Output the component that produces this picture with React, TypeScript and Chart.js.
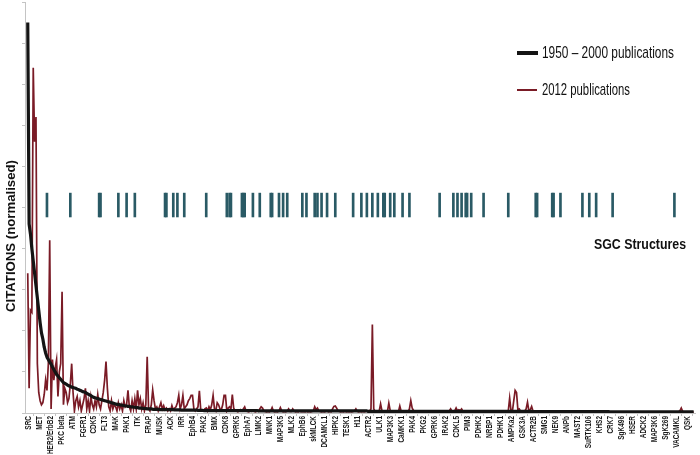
import React, { useEffect, useRef } from 'react';
import { Chart, registerables } from 'chart.js';

Chart.register(...registerables);

// ---------- DATA ----------
// one labelled kinase every LABEL_STEP positions
const LABEL_STEP = 8;
const kinaseLabels = [
  'SRC', 'MET', 'HER2/ErbB2', 'PKC beta', 'ATM', 'FGFR1', 'CDK5', 'FLT3', 'MAK', 'PAK1',
  'ITK', 'FRAP', 'MUSK', 'ACK', 'IRR', 'EphB4', 'PAK2', 'BMX', 'CDK8', 'GPRK5',
  'EphA7', 'LIMK2', 'MNK1', 'MAP3K5', 'MLK2', 'EphB6', 'skMLCK', 'DCAMKL1', 'HIPK2', 'TESK1',
  'H11', 'ACTR2', 'ULK1', 'MAP3K3', 'CaMKK1', 'PAK4', 'PKG2', 'GPRK6', 'IRAK2', 'CDKL5',
  'PIM3', 'PDHK2', 'NRBP1', 'PDHK1', 'AMPKa2', 'GSK3A', 'ACTR2B', 'SMG1', 'NEK9', 'ANPb',
  'MAST2', 'SuRTK106', 'KHS2', 'CRK7', 'SgK496', 'HSER', 'ADCK2', 'MAP3K6', 'SgK269', 'VACAMKL',
  'QSK',
];

// normalised citations, 1950 – 2000 publications (one value per kinase position)
const citations1950to2000 = [
  9.5, 4.6, 4.35, 4.0, 3.7, 3.4, 3.1, 2.8,
  2.5, 2.2, 1.95, 1.8, 1.6, 1.46, 1.36, 1.3,
  1.24, 1.19, 1.12, 1.06, 1.0, 0.94, 0.9, 0.86,
  0.82, 0.78, 0.74, 0.72, 0.7, 0.68, 0.66, 0.65,
  0.63, 0.62, 0.61, 0.6, 0.58, 0.57, 0.55, 0.54,
  0.52, 0.51, 0.5, 0.48, 0.46, 0.44, 0.42, 0.4,
  0.38, 0.37, 0.36, 0.35, 0.34, 0.33, 0.32, 0.31,
  0.3, 0.29, 0.28, 0.27, 0.26, 0.25, 0.24, 0.23,
  0.22, 0.21, 0.21, 0.2, 0.19, 0.19, 0.18, 0.17,
  0.17, 0.16, 0.16, 0.15, 0.15, 0.14, 0.14, 0.13,
  0.13, 0.12, 0.12, 0.12, 0.11, 0.11, 0.11, 0.1,
  0.1, 0.1, 0.1, 0.09, 0.09, 0.09, 0.09, 0.09,
  0.08, 0.08, 0.08, 0.08, 0.08, 0.08, 0.08, 0.08,
  0.08, 0.08, 0.08, 0.075, 0.075, 0.075, 0.075, 0.075,
  0.07, 0.07, 0.07, 0.07, 0.07, 0.07, 0.07, 0.07,
  0.07, 0.07, 0.07, 0.07, 0.065, 0.065, 0.065, 0.065,
  0.06, 0.06, 0.06, 0.06, 0.06, 0.06, 0.06, 0.06,
  0.06, 0.06, 0.06, 0.06, 0.06, 0.06, 0.06, 0.06,
  0.06, 0.06, 0.06, 0.06, 0.06, 0.06, 0.06, 0.06,
  0.06, 0.06, 0.06, 0.06, 0.06, 0.06, 0.06, 0.06,
  0.06, 0.06, 0.06, 0.06, 0.06, 0.06, 0.06, 0.06,
  0.05, 0.05, 0.05, 0.05, 0.05, 0.05, 0.05, 0.05,
  0.05, 0.05, 0.05, 0.05, 0.05, 0.05, 0.05, 0.05,
  0.05, 0.05, 0.05, 0.05, 0.05, 0.05, 0.05, 0.05,
  0.05, 0.05, 0.05, 0.05, 0.05, 0.05, 0.05, 0.05,
  0.05, 0.05, 0.05, 0.05, 0.05, 0.05, 0.05, 0.05,
  0.05, 0.05, 0.05, 0.05, 0.05, 0.05, 0.05, 0.05,
  0.05, 0.05, 0.05, 0.05, 0.05, 0.05, 0.05, 0.05,
  0.05, 0.05, 0.05, 0.05, 0.05, 0.05, 0.05, 0.05,
  0.05, 0.05, 0.05, 0.05, 0.05, 0.05, 0.05, 0.05,
  0.05, 0.05, 0.05, 0.05, 0.05, 0.05, 0.05, 0.05,
  0.04, 0.04, 0.04, 0.04, 0.04, 0.04, 0.04, 0.04,
  0.04, 0.04, 0.04, 0.04, 0.04, 0.04, 0.04, 0.04,
  0.04, 0.04, 0.04, 0.04, 0.04, 0.04, 0.04, 0.04,
  0.04, 0.04, 0.04, 0.04, 0.04, 0.04, 0.04, 0.04,
  0.04, 0.04, 0.04, 0.04, 0.04, 0.04, 0.04, 0.04,
  0.04, 0.04, 0.04, 0.04, 0.04, 0.04, 0.04, 0.04,
  0.04, 0.04, 0.04, 0.04, 0.04, 0.04, 0.04, 0.04,
  0.04, 0.04, 0.04, 0.04, 0.04, 0.04, 0.04, 0.04,
  0.04, 0.04, 0.04, 0.04, 0.04, 0.04, 0.04, 0.04,
  0.04, 0.04, 0.04, 0.04, 0.04, 0.04, 0.04, 0.04,
  0.04, 0.04, 0.04, 0.04, 0.04, 0.04, 0.04, 0.04,
  0.04, 0.04, 0.04, 0.04, 0.04, 0.04, 0.04, 0.04,
  0.04, 0.04, 0.04, 0.04, 0.04, 0.04, 0.04, 0.04,
  0.04, 0.04, 0.04, 0.04, 0.04, 0.04, 0.04, 0.04,
  0.04, 0.04, 0.04, 0.04, 0.04, 0.04, 0.04, 0.04,
  0.035, 0.035, 0.035, 0.035, 0.035, 0.035, 0.035, 0.035,
  0.035, 0.035, 0.035, 0.035, 0.035, 0.035, 0.035, 0.035,
  0.035, 0.035, 0.035, 0.035, 0.035, 0.035, 0.035, 0.035,
  0.035, 0.035, 0.035, 0.035, 0.035, 0.035, 0.035, 0.035,
  0.035, 0.035, 0.035, 0.035, 0.035, 0.035, 0.035, 0.035,
  0.035, 0.035, 0.035, 0.035, 0.035, 0.035, 0.035, 0.035,
  0.035, 0.035, 0.035, 0.035, 0.035, 0.035, 0.035, 0.035,
  0.03, 0.03, 0.03, 0.03, 0.03, 0.03, 0.03, 0.03,
  0.03, 0.03, 0.03, 0.03, 0.03, 0.03, 0.03, 0.03,
  0.03, 0.03, 0.03, 0.03, 0.03, 0.03, 0.03, 0.03,
  0.03, 0.03, 0.03, 0.03, 0.03, 0.03, 0.03, 0.03,
  0.03, 0.03, 0.03, 0.03, 0.03, 0.03, 0.03, 0.03,
  0.03, 0.03, 0.03, 0.03, 0.03, 0.03, 0.03, 0.03,
  0.03, 0.03, 0.03, 0.03, 0.03, 0.03, 0.03, 0.03,
  0.03, 0.03, 0.03, 0.03, 0.03, 0.03,
];

// normalised citations, 2012 publications
const citations2012 = [
  3.4, 0.6, 2.5, 2.45, 8.4, 6.6, 7.2, 1.2,
  0.5, 0.3, 0.2, 0.25, 0.45, 0.8, 0.55, 1.2,
  4.2, 0.1, 1.3, 0.8, 1.1, 1.3, 0.4, 1.0,
  1.2, 2.95, 0.2, 0.6, 0.5, 0.25, 0.35, 0.7,
  1.2, 0.5, 0.05, 0.3, 0.4, 0.15, 0.3, 0.05,
  0.2, 0.35, 0.6, 0.1, 0.3, 0.05, 0.4, 0.2,
  0.1, 0.3, 0.15, 0.45, 0.2, 0.1, 0.3, 0.5,
  0.8, 1.25, 0.6, 0.15, 0.05, 0.3, 0.1, 0.2,
  0.15, 0.05, 0.25, 0.1, 0.2, 0.05, 0.3, 0.15,
  0.2, 0.55, 0.15, 0.05, 0.3, 0.1, 0.35, 0.1,
  0.55, 0.2, 0.35, 0.1, 0.25, 0.05, 0.2, 1.37,
  0.1, 0.05, 0.2, 0.56, 0.3, 0.1, 0.15, 0.05,
  0.15, 0.25, 0.1, 0.18, 0.08, 0.12, 0.05, 0.1,
  0.05, 0.18, 0.08, 0.12, 0.15, 0.25, 0.43, 0.1,
  0.2, 0.43, 0.1, 0.15, 0.2, 0.3, 0.35, 0.43,
  0.43, 0.1, 0.05, 0.1, 0.15, 0.54, 0.08, 0.05,
  0.05, 0.1, 0.12, 0.05, 0.15, 0.08, 0.2, 0.43,
  0.1, 0.05, 0.25, 0.2, 0.1, 0.08, 0.2, 0.43,
  0.43, 0.05, 0.12, 0.15, 0.1, 0.45, 0.12, 0.05,
  0.05, 0.03, 0.05, 0.08, 0.05, 0.1, 0.15, 0.05,
  0.04, 0.03, 0.05, 0.04, 0.06, 0.04, 0.03, 0.05,
  0.04, 0.1, 0.15, 0.12, 0.05, 0.04, 0.03, 0.04,
  0.03, 0.05, 0.13, 0.04, 0.03, 0.04, 0.03, 0.05,
  0.13, 0.05, 0.03, 0.04, 0.03, 0.05, 0.1, 0.04,
  0.04, 0.1, 0.05, 0.03, 0.04, 0.03, 0.05, 0.03,
  0.03, 0.04, 0.03, 0.05, 0.03, 0.04, 0.03, 0.04,
  0.05, 0.15, 0.08, 0.12, 0.05, 0.04, 0.03, 0.04,
  0.03, 0.04, 0.05, 0.03, 0.04, 0.03, 0.1, 0.16,
  0.17, 0.12, 0.05, 0.04, 0.03, 0.04, 0.03, 0.05,
  0.03, 0.04, 0.03, 0.04, 0.03, 0.04, 0.05, 0.1,
  0.04, 0.03, 0.04, 0.03, 0.04, 0.03, 0.04, 0.05,
  0.04, 0.05, 0.1, 2.15, 0.1, 0.04, 0.03, 0.05,
  0.05, 0.22, 0.05, 0.03, 0.04, 0.03, 0.04, 0.24,
  0.06, 0.04, 0.03, 0.04, 0.03, 0.04, 0.03, 0.17,
  0.04, 0.03, 0.04, 0.03, 0.04, 0.03, 0.1, 0.3,
  0.12, 0.06, 0.04, 0.03, 0.04, 0.03, 0.04, 0.03,
  0.03, 0.04, 0.03, 0.03, 0.04, 0.03, 0.03, 0.03,
  0.03, 0.03, 0.04, 0.03, 0.03, 0.03, 0.04, 0.03,
  0.03, 0.04, 0.03, 0.05, 0.1, 0.04, 0.03, 0.05,
  0.12, 0.05, 0.08, 0.06, 0.1, 0.04, 0.03, 0.04,
  0.03, 0.03, 0.03, 0.04, 0.03, 0.03, 0.03, 0.03,
  0.03, 0.03, 0.03, 0.03, 0.04, 0.03, 0.03, 0.03,
  0.03, 0.03, 0.03, 0.03, 0.03, 0.03, 0.03, 0.03,
  0.03, 0.03, 0.03, 0.03, 0.03, 0.04, 0.05, 0.36,
  0.05, 0.04, 0.3, 0.55, 0.5, 0.08, 0.1, 0.04,
  0.04, 0.03, 0.05, 0.1, 0.26, 0.05, 0.08, 0.16,
  0.05, 0.03, 0.04, 0.03, 0.03, 0.03, 0.03, 0.03,
  0.03, 0.03, 0.03, 0.03, 0.03, 0.03, 0.03, 0.03,
  0.03, 0.03, 0.03, 0.03, 0.03, 0.03, 0.03, 0.03,
  0.03, 0.03, 0.03, 0.03, 0.03, 0.03, 0.03, 0.03,
  0.03, 0.03, 0.03, 0.03, 0.03, 0.03, 0.03, 0.03,
  0.03, 0.03, 0.03, 0.03, 0.03, 0.03, 0.03, 0.03,
  0.03, 0.03, 0.03, 0.02, 0.03, 0.03, 0.03, 0.03,
  0.03, 0.02, 0.03, 0.03, 0.02, 0.03, 0.03, 0.02,
  0.03, 0.02, 0.03, 0.02, 0.03, 0.02, 0.03, 0.02,
  0.02, 0.03, 0.02, 0.02, 0.03, 0.02, 0.02, 0.03,
  0.02, 0.02, 0.03, 0.02, 0.02, 0.02, 0.03, 0.02,
  0.02, 0.02, 0.02, 0.03, 0.02, 0.02, 0.02, 0.02,
  0.02, 0.02, 0.02, 0.02, 0.02, 0.03, 0.02, 0.02,
  0.02, 0.02, 0.03, 0.05, 0.12, 0.04, 0.02, 0.02,
  0.02, 0.02, 0.02, 0.02, 0.02, 0.02,
];

// kinase positions that have SGC structures
const sgcStructurePositions = [
  14, 31, 52, 53, 66, 72, 78, 100, 101, 106, 109, 114, 130, 145, 147, 148,
  156, 157, 158, 164, 169, 177, 178, 183, 186, 189, 200, 203, 209, 211, 214, 218,
  224, 237, 243, 247, 251, 255, 259, 260, 264, 267, 273, 278, 300, 310, 313, 316,
  319, 320, 323, 332, 350, 370, 371, 382, 383, 388, 404, 409, 414, 426, 471,
];
const sgcBand = [4.77, 5.35];

const yTickValues = [0, 1, 2, 3, 4, 5, 6, 7, 8, 9, 10];

// ---------- STYLE ----------
const BLACK = '#141414';
const RED = '#7a1b26';
const TEAL = '#2a5a65';
const AXIS = '#c4c4c4';
const FONT = '"Liberation Sans", Arial, sans-serif';

function drawFitted(ctx: CanvasRenderingContext2D, text: string, x: number, y: number, width: number, font: string, align: CanvasTextAlign) {
  ctx.save();
  ctx.font = font;
  const w = ctx.measureText(text).width;
  ctx.translate(x, y);
  ctx.scale(width / w, 1);
  ctx.textAlign = align;
  ctx.textBaseline = 'middle';
  ctx.fillText(text, 0, 0);
  ctx.restore();
}

const overlayPlugin = {
  id: 'overlay',
  afterDraw(chart: any) {
    const ctx: CanvasRenderingContext2D = chart.ctx;
    const xs = chart.scales.x;
    ctx.save();
    ctx.fillStyle = '#1a1a1a';
    // x tick labels (rotated, condensed)
    ctx.font = `bold 8.5px ${FONT}`;
    ctx.textAlign = 'right';
    ctx.textBaseline = 'middle';
    kinaseLabels.forEach((lab, k) => {
      const x = xs.getPixelForValue(k * LABEL_STEP);
      ctx.save();
      ctx.translate(x + 0.5, xs.top + 3);
      ctx.rotate(-Math.PI / 2);
      ctx.scale(0.76, 1);
      ctx.fillText(lab, 0, 0);
      ctx.restore();
    });

    // y axis title
    ctx.save();
    ctx.translate(11, 236);
    ctx.rotate(-Math.PI / 2);
    ctx.fillStyle = '#111';
    drawFitted(ctx, 'CITATIONS (normalised)', 0, 0, 152, `bold 13.5px ${FONT}`, 'center');
    ctx.restore();

    // legend
    const ds = chart.data.datasets;
    ctx.lineCap = 'butt';
    ctx.strokeStyle = ds[0].borderColor;
    ctx.lineWidth = 4;
    ctx.beginPath(); ctx.moveTo(517, 53); ctx.lineTo(538, 53); ctx.stroke();
    ctx.strokeStyle = ds[1].borderColor;
    ctx.lineWidth = 2;
    ctx.beginPath(); ctx.moveTo(517, 90); ctx.lineTo(537, 90); ctx.stroke();
    ctx.fillStyle = '#111';
    drawFitted(ctx, ds[0].label, 542, 53, 132, `17px ${FONT}`, 'left');
    drawFitted(ctx, ds[1].label, 542, 90, 88, `17px ${FONT}`, 'left');

    // SGC structures caption
    drawFitted(ctx, ds[2].label, 594, 245, 92, `bold 15.5px ${FONT}`, 'left');
    ctx.restore();
  },
};

export default function App() {
  const canvasRef = useRef<HTMLCanvasElement | null>(null);

  useEffect(() => {
    document.body.style.margin = '0';
    const canvas = canvasRef.current;
    if (!canvas) return;
    const chart = new Chart(canvas, {
      type: 'line',
      data: {
        datasets: [
          {
            label: '1950 – 2000 publications',
            data: citations1950to2000.map((v, i) => ({ x: i, y: v })),
            borderColor: BLACK,
            borderWidth: 3.2,
            borderJoinStyle: 'round',
            pointRadius: 0,
            tension: 0,
            order: 0,
          },
          {
            label: '2012 publications',
            data: citations2012.map((v, i) => ({ x: i, y: v })),
            borderColor: RED,
            borderWidth: 1.7,
            pointRadius: 0,
            tension: 0,
            order: 1,
          },
          {
            type: 'bar',
            label: 'SGC Structures',
            data: sgcStructurePositions.map((p) => ({ x: p, y: sgcBand })),
            backgroundColor: TEAL,
            barThickness: 2,
            grouped: false,
            order: 2,
          } as any,
        ],
      },
      options: {
        animation: false,
        responsive: false,
        devicePixelRatio: 1,
        layout: { padding: { top: 2, right: 5, left: 0, bottom: 0 } },
        plugins: { legend: { display: false }, tooltip: { enabled: false } },
        scales: {
          x: {
            type: 'linear',
            min: -2,
            max: 486,
            offset: false,
            afterBuildTicks: (s: any) => {
              s.ticks = kinaseLabels.map((_, k) => ({ value: k * LABEL_STEP }));
            },
            afterFit: (s: any) => { s.height = 42; },
            ticks: { display: false },
            grid: { display: true, drawOnChartArea: false, drawTicks: true, tickLength: 3, color: AXIS },
            border: { display: true, color: AXIS, width: 1 },
          },
          y: {
            type: 'linear',
            min: 0,
            max: 10,
            afterBuildTicks: (s: any) => {
              s.ticks = yTickValues.map((v) => ({ value: v }));
            },
            afterFit: (s: any) => { s.width = 25; },
            ticks: { display: false },
            grid: { display: true, drawOnChartArea: false, drawTicks: true, tickLength: 3, color: AXIS },
            border: { display: true, color: AXIS, width: 1 },
          },
        },
      } as any,
      plugins: [overlayPlugin],
    });
    return () => chart.destroy();
  }, []);

  return (
    <div style={{ position: 'absolute', left: 0, top: 0, width: 700, height: 455, background: '#fff' }}>
      <canvas ref={canvasRef} width={700} height={455} style={{ width: 700, height: 455, display: 'block' }} />
    </div>
  );
}
